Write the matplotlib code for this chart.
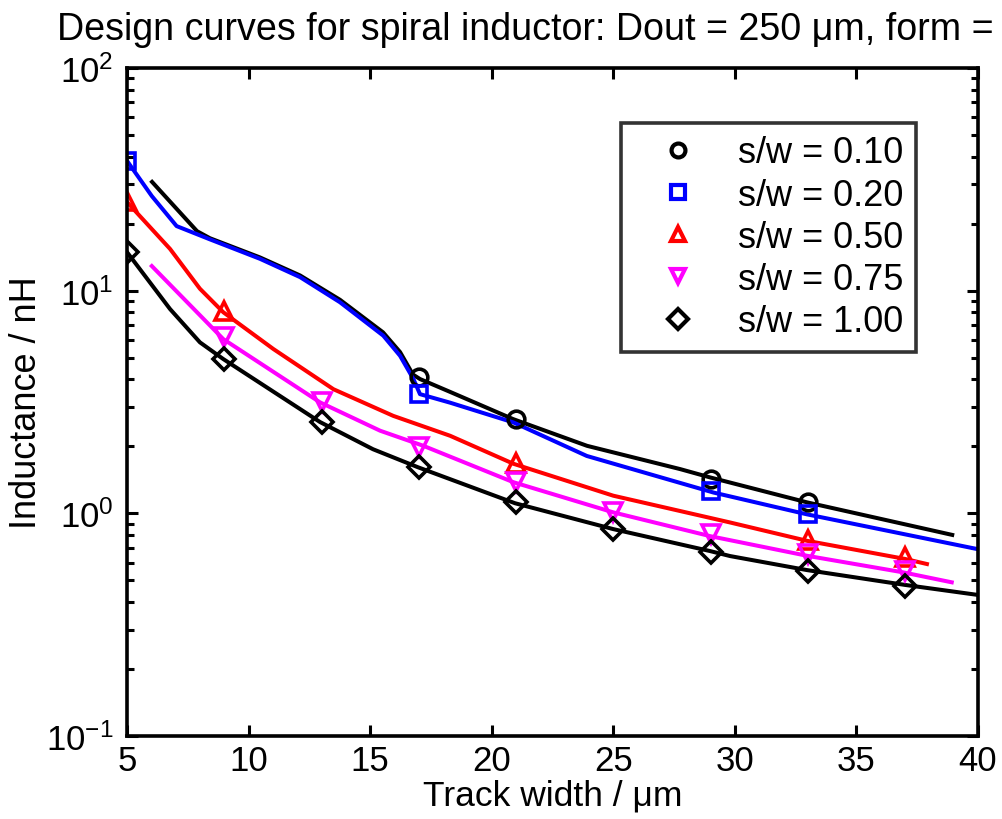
import numpy as np
import matplotlib
matplotlib.use('Agg')
import matplotlib.pyplot as plt
from matplotlib.ticker import LogLocator, NullFormatter

plt.rcParams['font.family'] = ['Liberation Sans', 'DejaVu Sans']
plt.rcParams['mathtext.fontset'] = 'custom'
plt.rcParams['mathtext.rm'] = 'Liberation Sans'
plt.rcParams['mathtext.it'] = 'Liberation Sans:italic'

# fitted curves
x_010 = [6.03, 7.88, 8.41, 10.47, 12.12, 13.76, 15.53, 16.23, 16.76, 17.05, 18.29, 20.88, 23.92, 27.75, 28.98, 32.97, 38.94]
y_010 = [30.8, 18.5, 17.2, 14.1, 11.7, 9.1, 6.5, 5.3, 4.2, 4.01, 3.51, 2.65, 2.01, 1.58, 1.45, 1.12, 0.80]

x_020 = [5.0, 6.02, 7.04, 8.41, 10.47, 12.12, 13.76, 15.54, 16.23, 16.78, 17.05, 18.29, 20.89, 23.91, 29.12, 32.96, 40.0]
y_020 = [38.3, 26.6, 19.5, 17.0, 13.9, 11.5, 8.87, 6.28, 5.10, 4.01, 3.43, 3.14, 2.56, 1.81, 1.24, 0.99, 0.69]

x_050 = [5.0, 6.77, 8.0, 8.96, 11.02, 13.49, 15.95, 18.29, 20.89, 25.0, 29.8, 32.96, 37.0, 37.9]
y_050 = [25.0, 15.4, 10.2, 8.0, 5.47, 3.61, 2.74, 2.23, 1.67, 1.20, 0.91, 0.753, 0.624, 0.592]

x_075 = [6.02, 8.96, 12.94, 15.41, 17.19, 20.89, 25.0, 28.98, 32.96, 36.93, 38.92]
y_075 = [12.9, 6.06, 3.15, 2.35, 2.01, 1.38, 1.01, 0.79, 0.645, 0.543, 0.49]

x_100 = [5.0, 6.77, 8.0, 8.96, 12.94, 15.12, 16.97, 20.96, 24.99, 28.98, 29.8, 32.97, 37.0, 40.0]
y_100 = [14.9, 8.27, 5.86, 4.93, 2.57, 1.94, 1.61, 1.11, 0.85, 0.677, 0.643, 0.556, 0.477, 0.43]

# simulated points (markers)
mx_010 = [17, 21, 29, 33]
my_010 = [4.09, 2.65, 1.43, 1.13]
mx_020 = [5, 17, 29, 33]
my_020 = [38.3, 3.43, 1.26, 0.99]
mx_050 = [5, 9, 21, 33, 37]
my_050 = [25.3, 8.1, 1.69, 0.76, 0.634]
mx_075 = [9, 13, 17, 21, 25, 29, 33, 37]
my_075 = [6.18, 3.15, 1.98, 1.38, 1.01, 0.81, 0.656, 0.553]
mx_100 = [5, 9, 13, 17, 21, 25, 29, 33, 37]
my_100 = [14.9, 4.93, 2.56, 1.61, 1.12, 0.85, 0.668, 0.553, 0.473]

labels = ['s/w = 0.10', 's/w = 0.20', 's/w = 0.50', 's/w = 0.75', 's/w = 1.00']

blue = '#0000ff'
red = '#ff0000'
magenta = '#ff00ff'

fig = plt.figure(figsize=(10.02, 8.2), dpi=100)
ax = fig.add_axes([127/1002, 1-737/820, 851/1002, 668/820])

lw = 2.9
ms = 12
mew = 2.6

ax.plot(x_010, y_010, '-', color='k', lw=lw)
ax.plot(x_020, y_020, '-', color=blue, lw=lw)
ax.plot(x_050, y_050, '-', color=red, lw=lw)
ax.plot(x_075, y_075, '-', color=magenta, lw=lw)
ax.plot(x_100, y_100, '-', color='k', lw=lw)

h = []
h += ax.plot(mx_010, my_010, 'o', color='k', mfc='none', ms=ms, mew=mew, label=labels[0])
h += ax.plot(mx_020, my_020, 's', color=blue, mfc='none', ms=ms-1, mew=mew, label=labels[1])
h += ax.plot(mx_050, my_050, '^', color=red, mfc='none', ms=ms+1, mew=mew, label=labels[2])
h += ax.plot(mx_075, my_075, 'v', color=magenta, mfc='none', ms=ms+1, mew=mew, label=labels[3])
h += ax.plot(mx_100, my_100, 'D', color='k', mfc='none', ms=ms-1, mew=mew, label=labels[4])

ax.set_yscale('log')
ax.set_xlim(5, 40)
ax.set_ylim(0.1, 100)
ax.set_xticks([5, 10, 15, 20, 25, 30, 35, 40])
ax.yaxis.set_major_locator(LogLocator(base=10, numticks=10))
ax.yaxis.set_minor_locator(LogLocator(base=10, subs=np.arange(2, 10), numticks=10))
ax.yaxis.set_minor_formatter(NullFormatter())

for s in ax.spines.values():
    s.set_linewidth(2.6)
ax.tick_params(which='both', direction='in', top=True, right=True, width=2.2)
ax.tick_params(which='major', length=8)
ax.tick_params(which='minor', length=5)
ax.tick_params(axis='x', labelsize=25, pad=6)
ax.tick_params(axis='y', labelsize=25, pad=10)

ax.set_xlabel('Track width / μm', fontsize=25.5)
ax.set_ylabel('Inductance / nH', fontsize=26)
ax.xaxis.set_label_coords(0.5, -0.064)
ax.yaxis.set_label_coords(-0.098, 0.5)

fig.text(57/1002, 1-40/820, 'Design curves for spiral inductor: Dout = 250 μm, form =',
         ha='left', va='baseline', fontsize=27.1)

leg = ax.legend(handles=h, loc='upper right', bbox_to_anchor=(0.927, 0.918),
                borderaxespad=0, fontsize=26, frameon=True, fancybox=False,
                edgecolor='k', numpoints=1, labelspacing=0.2,
                handlelength=2.5, handletextpad=0.4, borderpad=0.35)
leg.get_frame().set_linewidth(2.6)
for lh in leg.legend_handles:
    lh.set_markersize(10)
    lh.set_markeredgewidth(3)

fig.savefig('out.png', dpi=100)
